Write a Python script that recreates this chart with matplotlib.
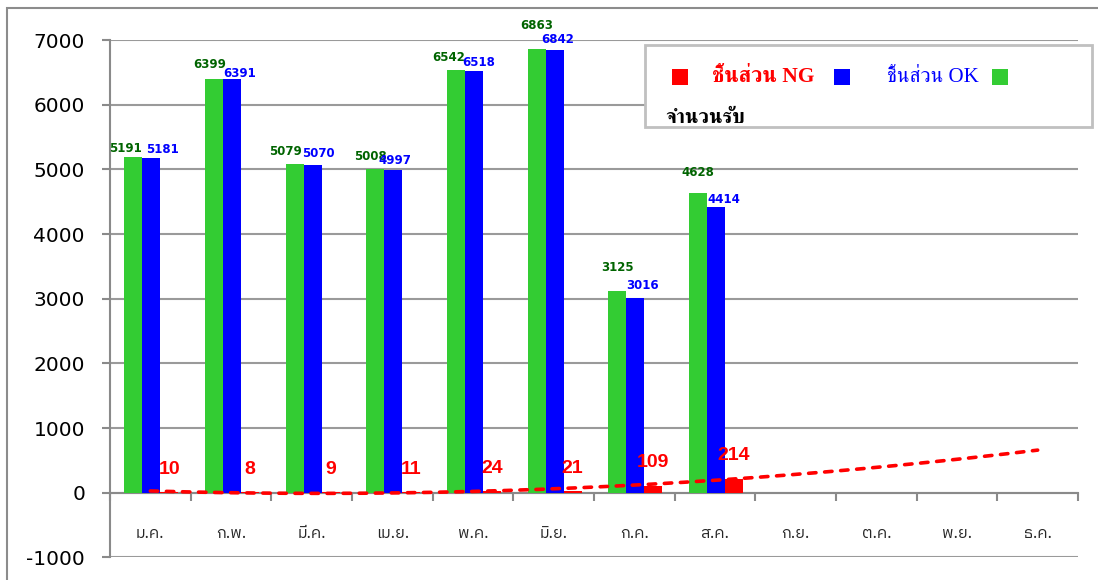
import numpy as np
import matplotlib.pyplot as plt
from matplotlib import font_manager, ft2font
from matplotlib.patches import Rectangle

months = ['ม.ค.', 'ก.พ.', 'มี.ค.', 'เม.ย.', 'พ.ค.', 'มิ.ย.', 'ก.ค.', 'ส.ค.',
          'ก.ย.', 'ต.ค.', 'พ.ย.', 'ธ.ค.']
received = [5191, 6399, 5079, 5008, 6542, 6863, 3125, 4628]
parts_ok = [5181, 6391, 5070, 4997, 6518, 6842, 3016, 4414]
parts_ng = [10, 8, 9, 11, 24, 21, 109, 214]
yticks = list(range(-1000, 7001, 1000))

# nudges for the value labels, pixels: (right, up from the bar top)
received_shift = [(-8, 8), (-4, 14), (-9, 13), (-5, 12), (-7, 12), (0, 23), (0, 23), (0, 21)]
ok_shift = [(11, 8), (8, 6), (6, 11), (2, 9), (5, 9), (3, 11), (7, 12), (8, 8)]


def covers(path, ch):
    try:
        return ft2font.FT2Font(path).get_char_index(ord(ch)) != 0
    except Exception:
        return False


# installed families that can draw Thai, sans ones first
thai_names = sorted({f.name for f in font_manager.fontManager.ttflist if covers(f.fname, 'ม')},
                    key=lambda s: ('Serif' in s, 'Sans' not in s, s))
thai_serif = ['Liberation Serif'] + sorted(thai_names, key=lambda s: 'Serif' not in s)
thai_sans = thai_names + ['Liberation Serif', 'DejaVu Sans']

W, H = 1098, 580
PT = 72 / 100  # pixels -> points


def fx(px):
    return px / W


def fy(py):
    return 1 - py / H


fig = plt.figure(figsize=(W / 100, H / 100), dpi=100)
ax = fig.add_axes([fx(110), fy(557.4), (1078 - 110) / W, (557.4 - 40) / H])

x = np.arange(len(months))
n = len(parts_ng)
w = 0.223
off = 0.012
green, blue, red = '#33CC33', '#0000FF', '#FF0000'

ax.bar(x[:n] - w + off, received, w, color=green, zorder=3)
ax.bar(x[:n] + off, parts_ok, w, color=blue, zorder=3)
ax.bar(x[:n] + w + off, parts_ng, w, color=red, zorder=3)

# 2nd order trend of the NG count over the whole year
coef = np.polyfit(x[:n], parts_ng, 2)
xs = np.linspace(0, len(months) - 1, 300)
ax.plot(xs, np.polyval(coef, xs), color=red, lw=2.6, linestyle=(0, (2.05, 2.4)),
        dash_capstyle='round', zorder=4)

for i in range(n):
    dx, dy = received_shift[i]
    ax.annotate(str(received[i]), (x[i] - w + off, received[i]), xytext=(dx * PT, dy * PT),
                textcoords='offset points', ha='center', va='center',
                color='#006400', fontsize=8.5, fontweight='bold', zorder=6)
    dx, dy = ok_shift[i]
    ax.annotate(str(parts_ok[i]), (x[i] + off, parts_ok[i]), xytext=(dx * PT, dy * PT),
                textcoords='offset points', ha='center', va='center',
                color=blue, fontsize=8.5, fontweight='bold', zorder=6)
    ax.annotate(str(parts_ng[i]), (x[i] + w + off, parts_ng[i]), xytext=(0, 23 * PT),
                textcoords='offset points', ha='center', va='center',
                color=red, fontsize=14, fontweight='bold', family='Liberation Sans', zorder=6)

ax.set_xlim(-0.5, len(months) - 0.5)
ax.set_ylim(-1000, 7000)
ax.set_yticks(yticks)
ax.set_yticklabels([str(v) for v in yticks], fontsize=14.5, family='DejaVu Sans')
ax.yaxis.grid(True, color='#9a9a9a', lw=1.5)
ax.set_axisbelow(True)

# category boundaries get the tick marks, month names sit between them
ax.set_xticks(np.arange(-0.5, len(months), 1))
ax.set_xticklabels([])
ax.tick_params(axis='x', which='major', length=6, width=1.5, color='#8a8a8a')
ax.tick_params(axis='x', which='minor', length=0)
ax.set_xticks(x, minor=True)
for xi, name in zip(x, months):
    ax.text(xi, -620, name, ha='center', va='center', fontsize=11.5,
            family=thai_sans, color='#262626')

axis_grey = '#8a8a8a'
for side in ['top', 'right']:
    ax.spines[side].set_visible(False)
ax.spines['left'].set_color(axis_grey)
ax.spines['left'].set_linewidth(1.5)
ax.spines['bottom'].set_position(('data', 0))
ax.spines['bottom'].set_color(axis_grey)
ax.spines['bottom'].set_linewidth(1.5)
ax.tick_params(axis='y', length=6, width=1.5, color=axis_grey, pad=12)

# chart frame
fig.add_artist(Rectangle((fx(7), -1), 2, 1 + fy(8), transform=fig.transFigure,
                         fill=False, edgecolor='#8c8c8c', lw=1.5))

# legend box
fig.add_artist(Rectangle((fx(645), fy(127)), (1092 - 645) / W, (127 - 45) / H,
                         transform=fig.transFigure, facecolor='white',
                         edgecolor='#c0c0c0', lw=2, zorder=10))
for left, color in [(672, red), (834, blue), (992, green)]:
    fig.add_artist(Rectangle((fx(left), fy(85)), 16 / W, 16 / H, transform=fig.transFigure,
                             facecolor=color, edgecolor='none', zorder=11))
fig.text(fx(712), fy(77), 'ชิ้นส่วน NG', color=red, fontsize=15.5, fontweight='bold',
         family=thai_serif, va='center', zorder=11)
fig.text(fx(887), fy(77), 'ชิ้นส่วน OK', color=blue, fontsize=15,
         family=thai_serif, va='center', zorder=11)
fig.text(fx(665), fy(118), 'จำนวนรับ', color='black', fontsize=14.5, fontweight='bold',
         family=thai_serif, va='center', zorder=11)

fig.savefig('out.png', dpi=100)
